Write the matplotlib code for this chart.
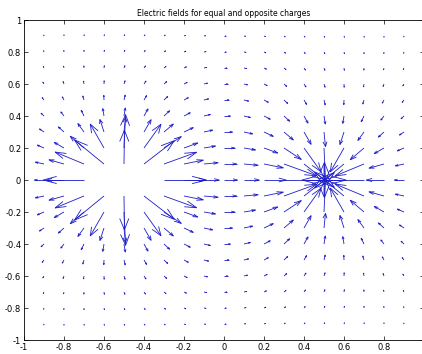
import numpy as np
import matplotlib
matplotlib.use('Agg')
import matplotlib.pyplot as plt
from matplotlib.collections import LineCollection

# grid of field points
grid_x = np.round(np.arange(-0.9, 0.91, 0.1), 2)
grid_y = np.round(np.arange(-0.9, 0.91, 0.1), 2)

# point charges (sign, position)
charge_q = [1.0, -1.0]
charge_x = [-0.5, 0.5]
charge_y = [0.0, 0.0]

# field strength is clipped at this value
field_cap = 25.0

# grid points left blank next to the charges
skip_x = [-0.6, -0.5, -0.4, 0.5]
skip_y = [0.0, 0.0, 0.0, 0.0]

ticks = [-1, -0.8, -0.6, -0.4, -0.2, 0, 0.2, 0.4, 0.6, 0.8, 1]
# the right-most x label falls off the cropped picture
xtick_labels = ['-1', '-0.8', '-0.6', '-0.4', '-0.2', '0', '0.2', '0.4', '0.6', '0.8', '']
ytick_labels = ['-1', '-0.8', '-0.6', '-0.4', '-0.2', '0', '0.2', '0.4', '0.6', '0.8', '1']

plt.rcParams['axes.unicode_minus'] = False

X, Y = np.meshgrid(grid_x, grid_y)
Ex = np.zeros_like(X)
Ey = np.zeros_like(Y)
with np.errstate(divide='ignore', invalid='ignore'):
    for q, cx, cy in zip(charge_q, charge_x, charge_y):
        dx = X - cx
        dy = Y - cy
        r = np.hypot(dx, dy)
        Ex += q * dx / r**3
        Ey += q * dy / r**3

for sx, sy in zip(skip_x, skip_y):
    m = np.isclose(X, sx) & np.isclose(Y, sy)
    Ex[m] = 0.0
    Ey[m] = 0.0

mag = np.hypot(Ex, Ey)
with np.errstate(divide='ignore', invalid='ignore'):
    f = np.where(mag > field_cap, field_cap / mag, 1.0)
Ex = Ex * f
Ey = Ey * f

# length of arrow per unit field (data units)
arrow_scale = 0.21 / field_cap
u = (Ex * arrow_scale).ravel()
v = (Ey * arrow_scale).ravel()
x = X.ravel()
y = Y.ravel()

# matlab style arrows: shaft plus open head
alpha = 0.33
beta = 0.33
shafts = []
heads = []
for xi, yi, ui, vi in zip(x, y, u, v):
    if not np.isfinite(ui) or (ui == 0 and vi == 0):
        continue
    tx, ty = xi + ui, yi + vi
    shafts.append([(xi, yi), (tx, ty)])
    h1 = (tx - alpha * (ui + beta * vi), ty - alpha * (vi - beta * ui))
    h2 = (tx - alpha * (ui - beta * vi), ty - alpha * (vi + beta * ui))
    heads.append([h1, (tx, ty), h2])

fig = plt.figure(figsize=(4.22, 3.54), dpi=100)
ax = fig.add_axes([24/422, 14/354, 400/422, 320/354])

col = '#1c1cc8'
ax.add_collection(LineCollection(shafts, colors=col, linewidths=0.6))
ax.add_collection(LineCollection(heads, colors=col, linewidths=0.6))

ax.set_xlim(-1, 1)
ax.set_ylim(-1, 1)
ax.set_xticks(ticks)
ax.set_yticks(ticks)
ax.set_xticklabels(xtick_labels)
ax.set_yticklabels(ytick_labels)
ax.tick_params(direction='in', length=3, width=0.5, top=True, right=True,
               labelsize=6, pad=2)
for s in ax.spines.values():
    s.set_linewidth(0.6)
ax.set_title('Electric fields for equal and opposite charges', fontsize=5.5, pad=3)

fig.savefig('out.png', dpi=100)
plt.close()
